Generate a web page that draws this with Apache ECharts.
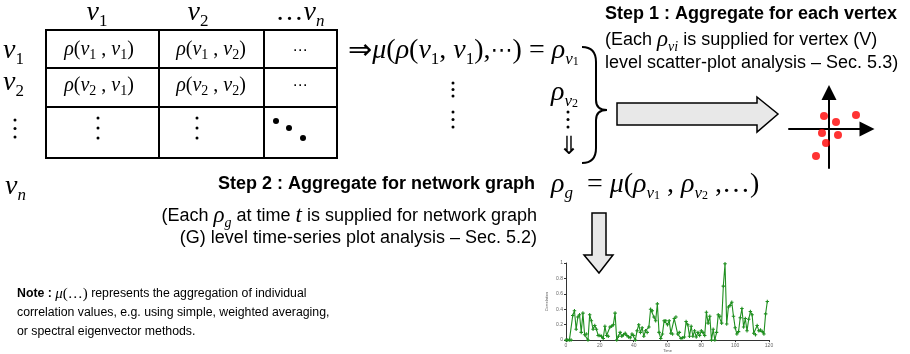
<!DOCTYPE html>
<html>
<head>
<meta charset="utf-8">
<script src="https://cdn.jsdelivr.net/npm/echarts@6/dist/echarts.min.js"></script>
<style>
  html, body { margin: 0; background: #fff; }
  #main { width: 910px; height: 354px; }
</style>
</head>
<body>
<div id="main"></div>
<script>
// scatter sketch (vertex level), offsets from the origin
const scatterX = [-5, 7, 27, -7, 9, -3, -13]
const scatterY = [13, 7, 14, -4, -6, -14, -27]

// time-series of graph level correlation
const timeTicks = [0, 20, 40, 60, 80, 100, 120]
const corrTicks = [0, 0.2, 0.4, 0.6, 0.8, 1]
const correlation = [
  0, 0, 0, 0,
  0.32, 0.38, 0.14, 0.30, 0.33, 0.10, 0.35, 0.07, 0.08, 0.00,
  0.33, 0.25, 0.14, 0.19, 0.14, 0.06, 0.06, 0.05, 0.02, 0.18,
  0.06, 0.05, 0.17, 0.18, 0.20, 0.35, 0.00, 0.05, 0.10, 0.05,
  0.07, 0.09, 0.06, 0.04, 0.03, 0.08, 0.06, 0.00, 0.12, 0.20,
  0.10, 0.16, 0.05, 0.12, 0.10, 0.17, 0.40, 0.38, 0.30, 0.25,
  0.47, 0.10, 0.02, 0.08, 0.25, 0.25, 0.20, 0.25, 0.09, 0.08,
  0.28, 0.30, 0.08, 0.10, 0.02, 0.03, 0.04, 0.24, 0.20, 0.05,
  0.18, 0.05, 0.12, 0.04, 0.10, 0.06, 0.12, 0.10, 0.06, 0.36,
  0.22, 0.31, 0.00, 0.14, 0.00, 0.10, 0.33, 0.31, 0.22, 0.70,
  0.99, 0.21, 0.43, 0.45, 0.49, 0.31, 0.16, 0.08, 0.11, 0.29,
  0.41, 0.17, 0.28, 0.12, 0.27, 0.37, 0.33, 0.09, 0.07, 0.19,
  0.12, 0.13, 0.11, 0.08, 0.34, 0.50,
]

const SERIF = '"Liberation Serif", "DejaVu Serif", serif'
const SANS = '"Liberation Sans", Arial, sans-serif'

// rich styles for math-ish text at base size S
function mathRich(S, tSize, subRatio) {
  const sub = Math.round(S * (subRatio || 0.6))
  const sub2 = Math.round(S * 0.42)
  const ts = tSize || 18
  return {
    i: { fontFamily: SERIF, fontStyle: 'italic', fontSize: S, lineHeight: Math.round(S * 1.2) },
    n: { fontFamily: SERIF, fontSize: S, lineHeight: Math.round(S * 1.2) },
    d: { fontFamily: '"DejaVu Sans", sans-serif', fontSize: Math.round(S * 0.8), lineHeight: Math.round(S * 1.2) },
    a: { fontFamily: '"DejaVu Sans", sans-serif', fontSize: Math.round(S * 1.05), lineHeight: Math.round(S * 1.2) },
    s: { fontFamily: SERIF, fontSize: sub, lineHeight: sub, verticalAlign: 'bottom' },
    si: { fontFamily: SERIF, fontStyle: 'italic', fontSize: sub, lineHeight: sub, verticalAlign: 'bottom' },
    ss: { fontFamily: SERIF, fontSize: sub2, lineHeight: sub2, verticalAlign: 'bottom' },
    t: { fontFamily: SANS, fontSize: ts, lineHeight: ts + 3 },
    b: { fontFamily: SANS, fontSize: ts, fontWeight: 'bold', lineHeight: ts + 3 },
  }
}

function txt(x, y, text, S, align, tSize, subRatio) {
  return {
    type: 'text', x, y, silent: true,
    style: {
      text, rich: mathRich(S, tSize, subRatio), fill: '#000',
      align: align || 'left', verticalAlign: 'middle',
      textAlign: align || 'left', textVerticalAlign: 'middle',
      font: S + 'px ' + SERIF,
    },
  }
}

function plain(x, y, text, size, bold, align) {
  return {
    type: 'text', x, y, silent: true,
    style: {
      text, fill: '#000',
      font: (bold ? 'bold ' : '') + size + 'px ' + SANS,
      align: align || 'left', verticalAlign: 'middle',
      textAlign: align || 'left', textVerticalAlign: 'middle',
    },
  }
}

function line(x1, y1, x2, y2, w) {
  return { type: 'line', silent: true, shape: { x1, y1, x2, y2 }, style: { stroke: '#000', lineWidth: w || 2 } }
}

function curve(x1, y1, cpx1, cpy1, x2, y2) {
  return { type: 'bezierCurve', silent: true, shape: { x1, y1, cpx1, cpy1, x2, y2 }, style: { fill: 'none', stroke: '#000', lineWidth: 2 } }
}

function dot(cx, cy, r) {
  return { type: 'circle', silent: true, shape: { cx, cy, r: r || 1.5 }, style: { fill: '#000' } }
}

function vdots(x, y0, gap) {
  return [dot(x, y0), dot(x, y0 + gap), dot(x, y0 + gap * 2)]
}

const cell = '{i|ρ}{n|(}{i|v}{s|A}{n| , }{i|v}{s|B}{n|)}'
const cellText = (a, b) => cell.replace('A', a).replace('B', b)

const graphics = [
  // matrix
  { type: 'rect', silent: true, shape: { x: 46, y: 30, width: 291, height: 128 }, style: { fill: 'none', stroke: '#000', lineWidth: 2 } },
  line(159, 30, 159, 158), line(264, 30, 264, 158),
  line(46, 68, 337, 68), line(46, 107, 337, 107),
  txt(97, 13, '{i|v}{s|1}', 28, 'center'),
  txt(198, 13, '{i|v}{s|2}', 28, 'center'),
  txt(300, 13, '{n|…}{i|v}{si|n}', 28, 'center'),
  txt(3, 51, '{i|v}{s|1}', 28),
  txt(3, 83, '{i|v}{s|2}', 28),
  txt(5, 187, '{i|v}{si|n}', 28),
  ...vdots(15, 120, 8.5),
  txt(99, 50, cellText(1, 1), 20, 'center', 18, 0.68),
  txt(211, 50, cellText(1, 2), 20, 'center', 18, 0.68),
  txt(99, 86, cellText(2, 1), 20, 'center', 18, 0.68),
  txt(211, 86, cellText(2, 2), 20, 'center', 18, 0.68),
  txt(300, 51, '{d|⋯}', 19, 'center'),
  txt(300, 86, '{d|⋯}', 19, 'center'),
  ...vdots(98, 118, 10), ...vdots(197, 118, 10),
  dot(276, 121, 3), dot(289, 128, 3), dot(303, 138, 3),

  // step 1 formula
  txt(348, 51, '{a|⇒}{i|μ}{n|(}{i|ρ}{n|(}{i|v}{s|1}{n|, }{i|v}{s|1}{n|),}{d|⋯}{n|) = }{i|ρ}{si|v}{ss|1}', 28),
  ...vdots(453, 83, 6.5), ...vdots(453, 112, 7.5),
  txt(551, 93, '{i|ρ}{si|v}{ss|2}', 28),
  ...vdots(568, 112, 7.5),
  txt(569, 147, '{a|⇓}', 24, 'center'),
  curve(582, 47, 596, 47, 596, 62), line(596, 62, 596, 100),
  curve(596, 100, 596, 110, 607, 110), curve(607, 110, 596, 110, 596, 120),
  line(596, 120, 596, 148), curve(596, 148, 596, 163, 582, 163),
  plain(605, 14, 'Step 1 : Aggregate for each vertex', 18, true),
  txt(605, 40, '{t|(Each }{i|ρ}{si|vi}{t| is supplied for vertex (V)}', 23),
  plain(605, 63, 'level scatter-plot analysis – Sec. 5.3)', 18),
  {
    type: 'polygon', silent: true,
    shape: { points: [[617, 103], [757, 103], [757, 97], [778, 114], [757, 132], [757, 125], [617, 125]] },
    style: { fill: '#e8e8e8', stroke: '#000', lineWidth: 1.5 },
  },

  // step 2
  plain(535, 184, 'Step 2 : Aggregate for network graph', 18, true, 'right'),
  txt(537, 216, '{t|(Each }{i|ρ}{si|g}{t| at time }{i|t}{t| is supplied for network graph}', 23, 'right'),
  plain(537, 238, '(G) level time-series plot analysis – Sec. 5.2)', 18, false, 'right'),
  txt(551, 185, '{i|ρ}{si|g}{n|  = }{i|μ}{n|(}{i|ρ}{si|v}{ss|1}{n| , }{i|ρ}{si|v}{ss|2}{n| ,…)}', 28),
  {
    type: 'polygon', silent: true,
    shape: { points: [[592, 213], [606, 213], [606, 255], [613, 255], [599, 273], [584, 255], [592, 255]] },
    style: { fill: '#e8e8e8', stroke: '#000', lineWidth: 1.5 },
  },

  // note
  txt(17, 294, '{b|Note : }{i|μ}{n|(…)}{t| represents the aggregation of individual}', 15, 'left', 12.3),
  plain(17, 313, 'correlation values, e.g. using simple, weighted averaging,', 12.3),
  plain(17, 332, 'or spectral eigenvector methods.', 12.3),
]

const chart = echarts.init(document.getElementById('main'))
chart.setOption({
  animation: false,
  grid: [
    { left: 789, top: 92.5, width: 78, height: 75.5 },
    { left: 566, top: 263, width: 203, height: 83 },
  ],
  xAxis: [
    {
      gridIndex: 0, type: 'value', min: -40, max: 38,
      axisLine: { onZero: true, symbol: ['none', 'triangle'], symbolSize: [15, 15], lineStyle: { color: '#000', width: 2 } },
      axisTick: { show: false }, axisLabel: { show: false }, splitLine: { show: false },
    },
    {
      gridIndex: 1, type: 'value', min: timeTicks[0], max: timeTicks[timeTicks.length - 1], interval: 20,
      name: 'Time', nameLocation: 'middle', nameGap: 8, nameTextStyle: { fontSize: 4, color: '#555' },
      axisLine: { lineStyle: { color: '#333', width: 1 } },
      axisTick: { length: 2, lineStyle: { color: '#333' } },
      axisLabel: { fontSize: 5, color: '#666', margin: 3 },
      splitLine: { show: false },
    },
  ],
  yAxis: [
    {
      gridIndex: 0, type: 'value', min: -39, max: 36.5,
      axisLine: { onZero: true, symbol: ['none', 'triangle'], symbolSize: [15, 15], lineStyle: { color: '#000', width: 2 } },
      axisTick: { show: false }, axisLabel: { show: false }, splitLine: { show: false },
    },
    {
      gridIndex: 1, type: 'value', min: corrTicks[0], max: corrTicks[corrTicks.length - 1], interval: 0.2,
      name: 'Correlation', nameLocation: 'middle', nameGap: 17, nameTextStyle: { fontSize: 4, color: '#555' },
      axisLine: { show: true, lineStyle: { color: '#333', width: 1 } },
      axisTick: { show: true, length: 2, lineStyle: { color: '#333' } },
      axisLabel: { fontSize: 5, color: '#666', margin: 3 },
      splitLine: { show: false },
    },
  ],
  series: [
    {
      type: 'scatter', xAxisIndex: 0, yAxisIndex: 0,
      data: scatterX.map((x, i) => [x, scatterY[i]]),
      symbolSize: 8, itemStyle: { color: '#ff0000' },
    },
    {
      type: 'line', xAxisIndex: 1, yAxisIndex: 1,
      data: correlation.map((v, i) => [i, v]),
      symbol: 'path://M-0.3,-1H0.3V-0.3H1V0.3H0.3V1H-0.3V0.3H-1V-0.3H-0.3Z', symbolSize: 3.5,
      showAllSymbol: true,
      lineStyle: { color: '#1f8f1f', width: 1.1 },
      itemStyle: { color: '#1f8f1f' },
    },
  ],
  graphic: graphics,
})
</script>
</body>
</html>
